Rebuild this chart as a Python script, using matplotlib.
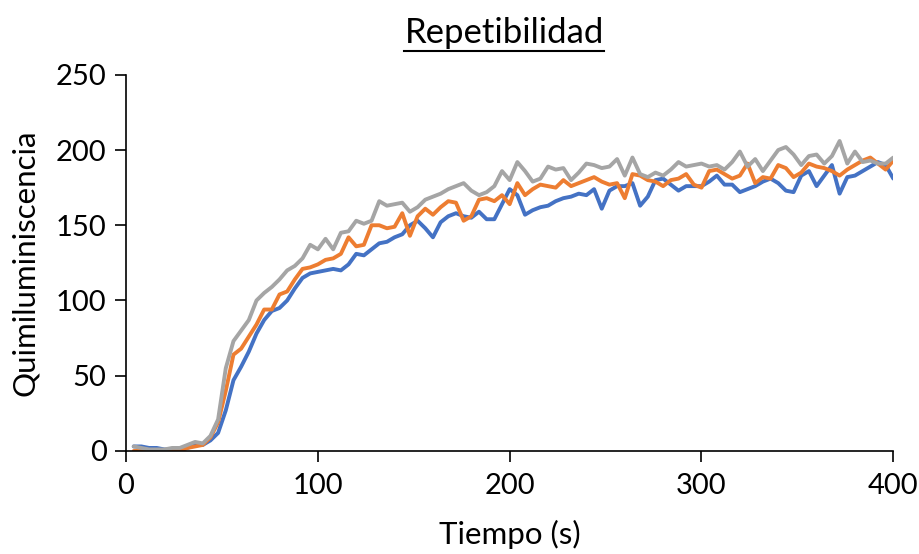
import numpy as np
import matplotlib
matplotlib.use('Agg')
import matplotlib.pyplot as plt
from matplotlib.lines import Line2D

# sampling time (s), one reading every 4 s
tiempo = np.arange(4, 401, 4)

serie_azul = [3, 3, 2, 2, 1, 1, 1, 2, 4, 4,
              7, 12, 27, 47, 56, 66, 78, 87, 93, 95,
              100, 108, 115, 118, 119, 120, 121, 120, 124, 131,
              130, 134, 138, 139, 142, 144, 150, 153, 148, 142,
              152, 156, 158, 156, 155, 159, 154, 154, 164, 174,
              170, 157, 160, 162, 163, 166, 168, 169, 171, 170,
              174, 161, 173, 176, 176, 178, 163, 169, 180, 181,
              177, 173, 176, 176, 176, 179, 183, 177, 177, 172,
              174, 176, 179, 181, 178, 173, 172, 183, 186, 176,
              183, 190, 171, 182, 183, 186, 189, 192, 190, 181]

serie_naranja = [0, 0, 0, 0, 0, 1, 0, 2, 3, 4,
                 9, 19, 40, 64, 68, 76, 84, 94, 94, 104,
                 106, 114, 121, 122, 124, 127, 128, 131, 142, 136,
                 137, 150, 150, 148, 149, 158, 143, 156, 161, 157,
                 162, 166, 165, 153, 156, 167, 168, 166, 170, 164,
                 178, 170, 174, 177, 176, 175, 180, 176, 178, 180,
                 182, 179, 177, 178, 168, 184, 183, 180, 179, 176,
                 180, 181, 184, 177, 175, 186, 187, 184, 181, 183,
                 191, 178, 182, 181, 190, 188, 182, 185, 191, 189,
                 188, 186, 183, 187, 190, 193, 195, 191, 187, 193]

serie_gris = [3, 2, 1, 1, 1, 2, 2, 4, 6, 5,
              10, 21, 55, 73, 80, 87, 100, 105, 109, 114,
              120, 123, 128, 137, 134, 141, 134, 145, 146, 153,
              151, 153, 166, 163, 164, 165, 159, 162, 167, 169,
              171, 174, 176, 178, 173, 170, 172, 176, 186, 180,
              192, 186, 179, 181, 189, 187, 188, 180, 185, 191,
              190, 188, 189, 194, 183, 195, 184, 182, 185, 183,
              187, 192, 189, 190, 191, 189, 190, 187, 192, 199,
              189, 194, 186, 193, 200, 202, 197, 190, 196, 197,
              191, 196, 206, 191, 199, 192, 193, 191, 191, 195]

colores = ['#4472C4', '#ED7D31', '#A5A5A5']

plt.rcParams['font.family'] = ['Lato', 'DejaVu Sans']

fig = plt.figure(figsize=(9.2, 5.54), dpi=100)
ax = fig.add_axes([0.137, 0.186, 0.834, 0.679])

for serie, c in zip([serie_azul, serie_naranja, serie_gris], colores):
    ax.plot(tiempo, serie, color=c, lw=2.8, solid_joinstyle='round',
            solid_capstyle='round')

ax.set_xlim(0, 400)
ax.set_ylim(0, 250)
ax.set_xticks([0, 100, 200, 300, 400])
ax.set_yticks([0, 50, 100, 150, 200, 250])
ax.spines['top'].set_visible(False)
ax.spines['right'].set_visible(False)
for s in ['left', 'bottom']:
    ax.spines[s].set_linewidth(1.2)
ax.tick_params(direction='out', length=8, width=1.2, labelsize=21, pad=8)
ax.tick_params(axis='y', pad=6)
ax.set_xlabel('Tiempo (s)', fontsize=22.5, labelpad=15)
ax.set_ylabel('Quimiluminiscencia', fontsize=22.5, labelpad=12)

titulo = fig.text(0.548, 0.94, 'Repetibilidad', fontsize=25, ha='center', va='center')

# underline for the title
fig.canvas.draw()
bb = titulo.get_window_extent().transformed(fig.transFigure.inverted())
fig.add_artist(Line2D([bb.x0, bb.x1], [bb.y0 - 0.004, bb.y0 - 0.004],
                      color='black', lw=1.5, transform=fig.transFigure))

fig.savefig('out.png', dpi=100)
